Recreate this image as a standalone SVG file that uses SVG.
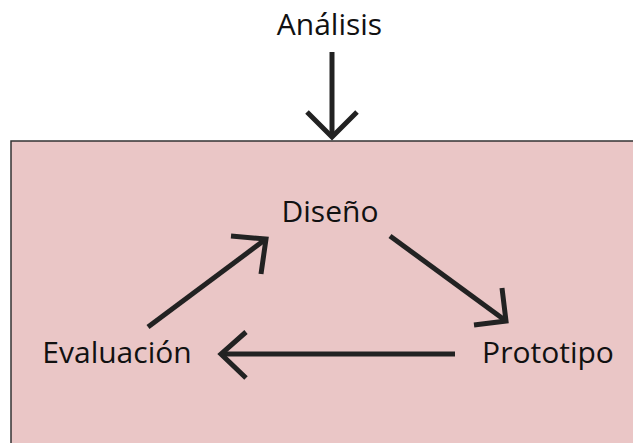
<svg xmlns="http://www.w3.org/2000/svg" width="633" height="443" viewBox="0 0 633 443">
  <style>
    .lbl { font-family: "Open Sans", "Noto Sans", sans-serif; font-size: 30px; fill: #111111; text-anchor: middle; }
    .edge { fill: none; stroke: #222222; stroke-width: 5; stroke-linecap: butt; stroke-linejoin: miter; }
  </style>
  <rect width="633" height="443" fill="#ffffff"/>
  <!-- iterative cycle frame -->
  <rect id="cycle" x="11" y="141" width="640" height="320" fill="#eac6c6" stroke="#333333" stroke-width="1.5"/>

  <g id="analisis"><text class="lbl" x="329.5" y="35">Análisis</text></g>
  <g id="diseno"><text class="lbl" x="330" y="222">Diseño</text></g>
  <g id="evaluacion"><text class="lbl" x="117" y="363">Evaluación</text></g>
  <g id="prototipo"><text class="lbl" x="548" y="363">Prototipo</text></g>

  <g id="connectors">
    <!-- Análisis down into the cycle -->
    <path class="edge" d="M332 52 V137"/>
    <path class="edge" d="M307 112 L332 137 L357 112"/>
    <!-- Evaluación to Diseño -->
    <path class="edge" d="M148 327 L266 239"/>
    <path class="edge" d="M231 236 L266 239 L261 274"/>
    <!-- Diseño to Prototipo -->
    <path class="edge" d="M390 236 L506 321"/>
    <path class="edge" d="M502 288 L506 321 L474 325"/>
    <!-- Prototipo to Evaluación -->
    <path class="edge" d="M455 354 H221"/>
    <path class="edge" d="M246 332 L221 354 L246 378"/>
  </g>
</svg>
